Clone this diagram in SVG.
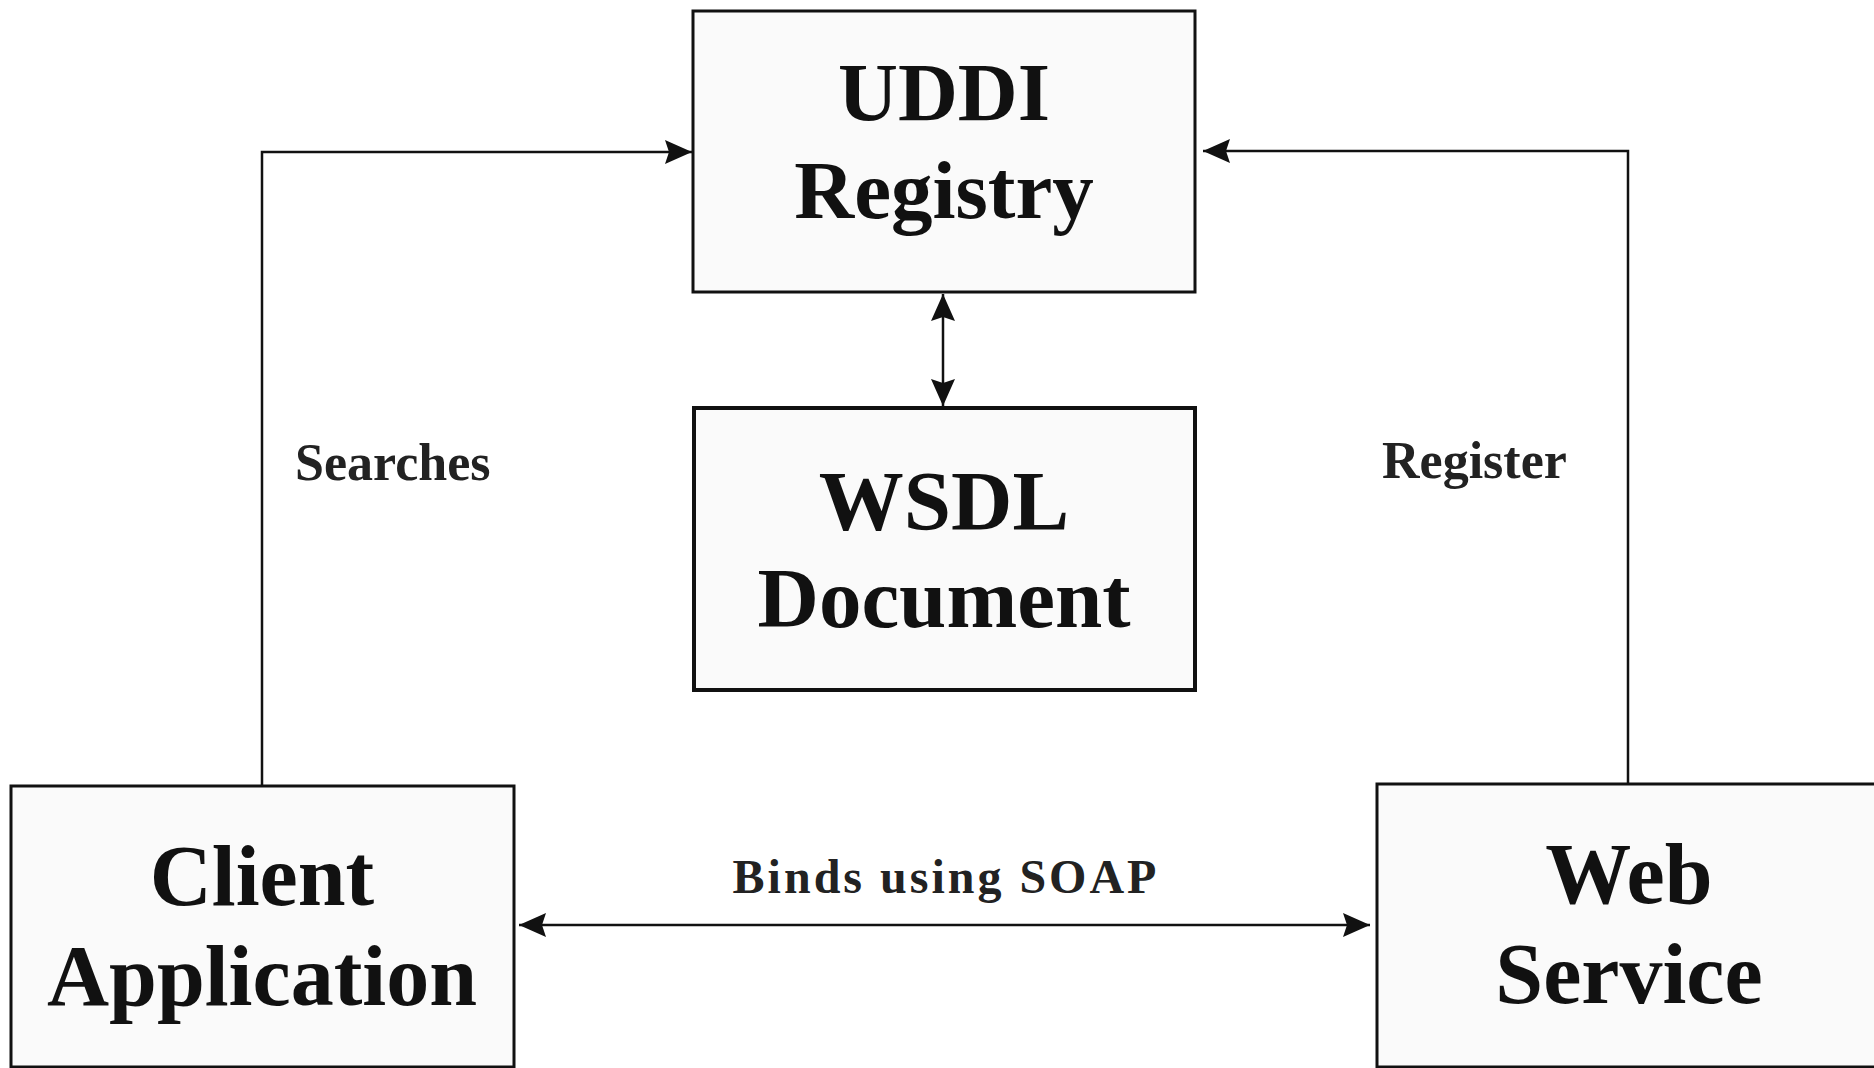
<svg xmlns="http://www.w3.org/2000/svg" width="1874" height="1068" viewBox="0 0 1874 1068">
<style>
.box{fill:#fafafa;stroke:#111;stroke-width:3}
.thick{stroke-width:4}
.node{font-family:"Liberation Serif","Times New Roman",serif;font-weight:bold;fill:#111;text-anchor:middle}
.lbl{font-family:"Liberation Serif","Times New Roman",serif;font-weight:bold;fill:#222;font-size:52px}
.conn{fill:none;stroke:#111;stroke-width:2.5}
</style>
<defs>
<marker id="ah" markerUnits="userSpaceOnUse" markerWidth="28" markerHeight="26" viewBox="0 0 28 26" refX="27" refY="13" orient="auto-start-reverse">
<path d="M0,1 L27,13 L0,25 L4,13 z" fill="#111"/>
</marker>
</defs>
<rect width="1874" height="1068" fill="#fff"/>
<g id="connectors">
<path class="conn" d="M262,786 V152 H692" marker-end="url(#ah)"/>
<path class="conn" d="M1628,784 V151 H1203" marker-end="url(#ah)"/>
<path class="conn" d="M943,294 V406" marker-start="url(#ah)" marker-end="url(#ah)"/>
<path class="conn" d="M519,925 H1370" marker-start="url(#ah)" marker-end="url(#ah)"/>
<text class="lbl" x="295" y="480">Searches</text>
<text class="lbl" x="1382" y="478">Register</text>
<text class="lbl" x="946" y="893" style="font-size:48px;letter-spacing:3px" text-anchor="middle">Binds using SOAP</text>
</g>
<g id="uddi">
<rect class="box" x="693" y="11" width="502" height="281"/>
<text class="node" x="944" y="120" font-size="83">UDDI</text>
<text class="node" x="944" y="218" font-size="83">Registry</text>
</g>
<g id="wsdl">
<rect class="box thick" x="694" y="408" width="501" height="282"/>
<text class="node" x="944" y="530" font-size="85">WSDL</text>
<text class="node" x="944" y="627" font-size="85">Document</text>
</g>
<g id="client">
<rect class="box" x="11" y="786" width="503" height="281"/>
<text class="node" x="262" y="905" font-size="86">Client</text>
<text class="node" x="262" y="1005" font-size="86">Application</text>
</g>
<g id="webservice">
<rect class="box" x="1377" y="784" width="520" height="283"/>
<text class="node" x="1629" y="903" font-size="86">Web</text>
<text class="node" x="1629" y="1003" font-size="86">Service</text>
</g>
</svg>
